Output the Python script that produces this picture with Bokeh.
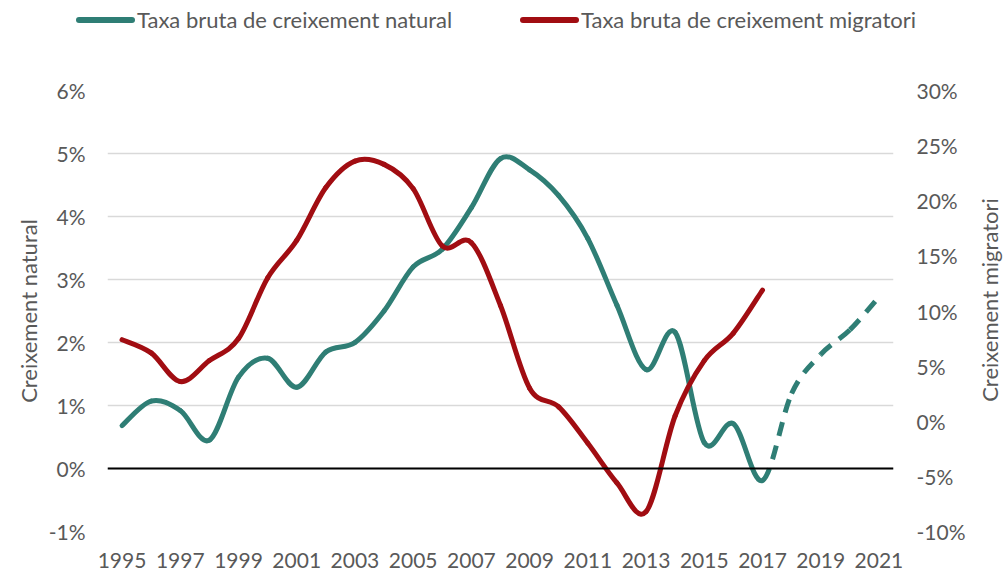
from bokeh.plotting import figure
from bokeh.layouts import column, row
from bokeh.models import (Range1d, LinearAxis, FixedTicker, PrintfTickFormatter,
                          Span, Div, ColumnDataSource)
from bokeh.embed import file_html
from bokeh.resources import INLINE

# ---------------- data ----------------
years = list(range(1995, 2022))
natural = [0.68, 1.07, 0.92, 0.45, 1.45, 1.75, 1.29, 1.85, 2.00, 2.50,
           3.20, 3.48, 4.14, 4.92, 4.74, 4.33, 3.65, 2.59, 1.57, 2.16,
           0.41, 0.71, -0.19, 1.19, 1.81, 2.20, 2.72]
mig_years = list(range(1995, 2018))
migratori = [7.4, 6.2, 3.6, 5.5, 7.5, 13.0, 16.4, 21.2, 23.6, 23.3,
             21.1, 15.9, 16.2, 10.5, 3.0, 1.3, -2.0, -5.6, -8.2, 0.5,
             5.5, 8.0, 11.9]
projection_from = 2017
x_ticks = list(range(1995, 2022, 2))
left_ticks = [-1, 0, 1, 2, 3, 4, 5, 6]
right_ticks = [-10, -5, 0, 5, 10, 15, 20, 25, 30]
label_natural = "Taxa bruta de creixement natural"
label_migratori = "Taxa bruta de creixement migratori"
title_left = "Creixement natural"
title_right = "Creixement migratori"

GREEN = "#2F7E75"
RED = "#A10D12"
GREY_TXT = "#595959"
FONT = "Lato"
FS = "21px"
W = 1004
H = 571
LEG_H = 40
RT_W = 30   # strip holding the right-hand axis title


def smooth_segments(xs, ys):
    """Bezier segments (Catmull-Rom style) through the given points."""
    n = len(xs)
    out = dict(x0=[], y0=[], x1=[], y1=[], cx0=[], cy0=[], cx1=[], cy1=[])
    for i in range(n - 1):
        im = max(i - 1, 0)
        ip = min(i + 2, n - 1)
        out["x0"].append(xs[i]); out["y0"].append(ys[i])
        out["x1"].append(xs[i + 1]); out["y1"].append(ys[i + 1])
        out["cx0"].append(xs[i] + (xs[i + 1] - xs[im]) / 6.0)
        out["cy0"].append(ys[i] + (ys[i + 1] - ys[im]) / 6.0)
        out["cx1"].append(xs[i + 1] - (xs[ip] - xs[i]) / 6.0)
        out["cy1"].append(ys[i + 1] - (ys[ip] - ys[i]) / 6.0)
    return out


# ---------------- legend strip (HTML) ----------------
def legend_item(left, color, text):
    return (
        f'<div style="position:absolute;left:{left}px;top:0;height:{LEG_H}px;'
        f'display:flex;align-items:center;white-space:nowrap;">'
        f'<span style="display:inline-block;width:59px;height:6px;border-radius:3px;'
        f'background:{color};"></span>'
        f'<span style="margin-left:2px;font-family:{FONT};font-size:22px;'
        f'color:{GREY_TXT};">{text}</span></div>'
    )


legend_html = (
    f'<div style="position:relative;width:{W}px;height:{LEG_H}px;">'
    + legend_item(76, GREEN, label_natural)
    + legend_item(520, RED, label_migratori)
    + '</div>'
)
lg = Div(text=legend_html, width=W, height=LEG_H, margin=0)

# ---------------- right axis title (rotated, reads bottom-to-top) ----------------
rt_html = (
    f'<div style="position:relative;width:{RT_W}px;height:{H - LEG_H}px;">'
    f'<div style="position:absolute;left:16px;top:{300 - LEG_H}px;'
    f'transform:translate(-50%,-50%) rotate(-90deg);white-space:nowrap;'
    f'font-family:{FONT};font-size:22px;color:{GREY_TXT};">{title_right}</div></div>'
)
rt = Div(text=rt_html, width=RT_W, height=H - LEG_H, margin=0)

# ---------------- main chart ----------------
p = figure(width=W - RT_W, height=H - LEG_H,
           x_range=Range1d(1994.5, 2021.5), y_range=Range1d(-1, 6),
           output_backend="svg", toolbar_location=None,
           min_border_left=107, min_border_right=111 - RT_W,
           min_border_top=90 - LEG_H, min_border_bottom=40)
p.extra_y_ranges = {"mig": Range1d(-10, 30)}
p.outline_line_color = None

p.xgrid.visible = False
p.ygrid.grid_line_color = "#D9D9D9"
p.ygrid.grid_line_width = 1.3
p.ygrid.ticker = FixedTicker(ticks=left_ticks)


def style_axis(ax, standoff):
    ax.axis_line_color = None
    ax.major_tick_line_color = None
    ax.minor_tick_line_color = None
    ax.major_tick_out = 0
    ax.major_tick_in = 0
    ax.minor_tick_out = 0
    ax.minor_tick_in = 0
    ax.major_label_standoff = standoff
    ax.major_label_text_font = FONT
    ax.major_label_text_font_size = FS
    ax.major_label_text_color = GREY_TXT
    ax.axis_label_text_font = FONT
    ax.axis_label_text_font_size = "22px"
    ax.axis_label_text_font_style = "normal"
    ax.axis_label_text_color = GREY_TXT


xa = p.xaxis[0]
xa.ticker = FixedTicker(ticks=x_ticks)
style_axis(xa, 21)

ya = p.yaxis[0]
ya.ticker = FixedTicker(ticks=left_ticks)
ya.formatter = PrintfTickFormatter(format="%d%%")
style_axis(ya, 22)
ya.axis_label = title_left
ya.axis_label_standoff = 4

ra = LinearAxis(y_range_name="mig", ticker=FixedTicker(ticks=right_ticks),
                formatter=PrintfTickFormatter(format="%d%%"))
style_axis(ra, 23)
p.add_layout(ra, "right")

p.add_layout(Span(location=0, dimension="width", line_color="black", line_width=1.8))

seg_n = smooth_segments(years, natural)
k = years.index(projection_from)
solid = {key: v[:k] for key, v in seg_n.items()}
dashed = {key: v[k:] for key, v in seg_n.items()}
p.bezier(source=ColumnDataSource(solid), x0="x0", y0="y0", x1="x1", y1="y1",
         cx0="cx0", cy0="cy0", cx1="cx1", cy1="cy1",
         line_color=GREEN, line_width=5, line_cap="round")
p.bezier(source=ColumnDataSource(dashed), x0="x0", y0="y0", x1="x1", y1="y1",
         cx0="cx0", cy0="cy0", cx1="cx1", cy1="cy1",
         line_color=GREEN, line_width=5, line_dash="14 10")

seg_m = smooth_segments(mig_years, migratori)
p.bezier(source=ColumnDataSource(seg_m), x0="x0", y0="y0", x1="x1", y1="y1",
         cx0="cx0", cy0="cy0", cx1="cx1", cy1="cy1",
         line_color=RED, line_width=5, line_cap="round", y_range_name="mig")

layout = column(lg, row(p, rt, spacing=0), spacing=0)
open("out.html", "w").write(file_html(layout, INLINE))
